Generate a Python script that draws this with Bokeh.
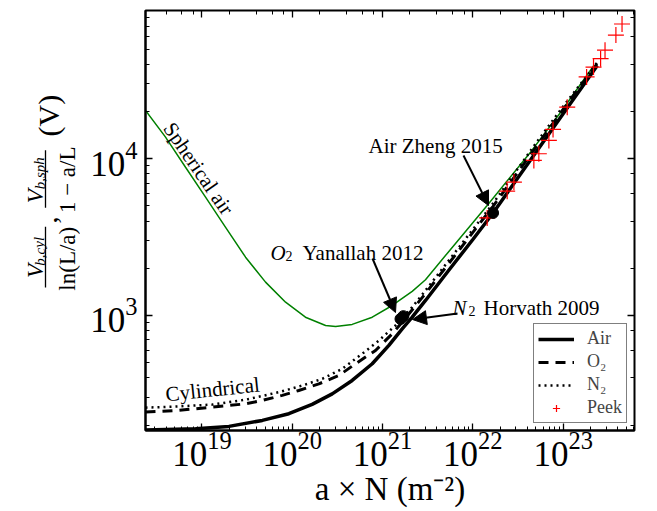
from bokeh.plotting import figure
from bokeh.models import (Range1d, LogAxis, LogTicker, Label, Arrow, NormalHead,
                          Legend, LegendItem, CustomJSTickFormatter)
from bokeh.layouts import row
from bokeh.embed import file_html
from bokeh.resources import INLINE

# ---------------- data ----------------
air_x = [2.37e18, 8.5e18, 1.99e19, 4.66e19, 9.17e19, 1.66e20, 2.77e20, 4.61e20, 7.69e20,
         1.175e21, 1.65e21, 2.13e21, 2.99e21, 5.31e21, 1.0e22, 1.675e22, 5.16e22, 1.0e23,
         2.39e23]
air_y = [186, 189, 196, 214, 236, 271, 316, 385, 492, 644, 822, 975, 1247, 1915, 3055,
         4510, 11300, 19400, 39360]

o2_x = [2.37e18, 5.55e18, 1.3e19, 3.04e19, 4.66e19, 7.75e19, 1.18e20, 1.97e20, 3.28e20,
        5.02e20, 8.36e20, 1.28e21, 1.65e21, 2.99e21, 1.0e22, 1.675e22, 5.16e22, 1.0e23,
        2.39e23]
o2_y = [242, 248, 260, 273, 287, 309, 332, 366, 414, 492, 598, 764, 906, 1381, 3390,
        4970, 12160, 20650, 40550]

n2_x = [2.37e18, 5.55e18, 1.3e19, 3.04e19, 7.11e19, 1.29e20, 2.15e20, 3.58e20, 5.96e20,
        9.1e20, 1.39e21, 2.13e21, 2.99e21, 1.0e22, 1.675e22, 5.16e22, 1.0e23, 2.39e23]
n2_y = [258, 263, 270, 290, 324, 357, 394, 457, 570, 692, 863, 1130, 1443, 3540, 5190,
        12890, 21580, 41200]

sph_x = [2.37e18, 3.95e18, 6.58e18, 1.096e19, 1.82e19, 3.04e19, 5.06e19, 8.43e19, 1.4e20,
         2.34e20, 3.02e20, 4.61e20, 7.69e20, 1.28e21, 2.13e21, 2.99e21, 5.2e21, 1.44e22,
         4.35e22, 9.35e22, 2.19e23]
sph_y = [20320, 13740, 8830, 5690, 3660, 2355, 1632, 1215, 975, 863, 851, 877, 975, 1158,
         1425, 1690, 2489, 5035, 11015, 19720, 39360]

peek_x = [1.44e22, 2.4e22, 2.85e22, 4.74e22, 5.38e22, 6.95e22, 7.73e22, 1.11e23,
          1.82e23, 2.17e23, 2.6e23, 2.91e23, 3.84e23, 4.49e23]
peek_y = [4190, 6210, 7100, 9750, 10760, 13090, 15380, 21330, 33270, 38430, 43490,
          49300, 61500, 72400]

# measured points: O2 Yanallah 2012, N2 Horvath 2009, Air Zheng 2015
pts_x = [1.58e21, 1.7e21, 1.675e22]
pts_y = [950, 990, 4510]

legend_labels = ["Air", "O\u2082", "N\u2082", "Peek"]

FONT = "Liberation Serif"
H = 511          # canvas height
LW = 80          # width of the strip that carries the y-axis title

p = figure(width=650 - LW, height=H, x_axis_type="log", y_axis_type="log",
           x_range=Range1d(2.37e18, 6.17e23), y_range=Range1d(184.5, 88300),
           output_backend="svg", toolbar_location=None,
           min_border_left=145 - LW, min_border_right=16, min_border_top=10,
           min_border_bottom=H - 430)
p.background_fill_color = "white"
p.border_fill_color = "white"
p.outline_line_color = "black"
p.outline_line_width = 2
p.xgrid.visible = False
p.ygrid.visible = False


def style_axis(ax):
    ax.major_tick_in = 7
    ax.major_tick_out = 0
    ax.minor_tick_in = 4
    ax.minor_tick_out = 0
    ax.major_tick_line_color = "black"
    ax.minor_tick_line_color = "black"
    ax.major_tick_line_width = 1.3
    ax.minor_tick_line_width = 1
    ax.axis_line_color = "black"
    ax.axis_line_width = 2


for ax in (p.xaxis[0], p.yaxis[0]):
    style_axis(ax)
    ax.major_label_text_font = FONT
    ax.major_label_text_font_size = "35px"
    ax.major_label_text_color = "black"
p.xaxis[0].major_label_standoff = 1
p.yaxis[0].major_label_standoff = 8
p.xaxis[0].axis_label = "a \u00d7 N (m\u207b\u00b2)"
p.xaxis[0].axis_label_text_font = FONT
p.xaxis[0].axis_label_text_font_size = "33px"
p.xaxis[0].axis_label_text_font_style = "normal"
p.xaxis[0].axis_label_text_color = "black"
p.xaxis[0].axis_label_standoff = 2

for loc in ("above", "right"):
    ax = LogAxis(ticker=LogTicker(), formatter=CustomJSTickFormatter(code="return ''"),
                 major_label_text_font_size="0px", major_label_standoff=0)
    style_axis(ax)
    ax.axis_line_color = None
    p.add_layout(ax, loc)

# ---------------- curves ----------------
sph_r = p.line(sph_x, sph_y, line_color="green", line_width=1.5)
air_r = p.line(air_x, air_y, line_color="black", line_width=3.5)
o2_r = p.line(o2_x, o2_y, line_color="black", line_width=3, line_dash="10 7")
n2_r = p.line(n2_x, n2_y, line_color="black", line_width=2.5, line_dash="2 4")
peek_r = p.scatter(peek_x, peek_y, marker="cross", size=16, line_color="red",
                   line_width=1.2)
p.scatter(pts_x, pts_y, marker="circle", size=11, fill_color="black", line_color="black")

legend = Legend(items=[LegendItem(label=legend_labels[0], renderers=[air_r]),
                       LegendItem(label=legend_labels[1], renderers=[o2_r]),
                       LegendItem(label=legend_labels[2], renderers=[n2_r]),
                       LegendItem(label=legend_labels[3], renderers=[peek_r])],
                location="bottom_right", margin=7, padding=4, spacing=2,
                glyph_width=36, glyph_height=18, label_height=18, label_standoff=13,
                label_text_font=FONT, label_text_font_size="18px",
                border_line_color="black", border_line_width=1.5,
                background_fill_color="white", background_fill_alpha=1)
p.add_layout(legend)


# ---------------- texts inside the plot ----------------
def lab(fig, text, x, y, size, style="normal", angle=0.0, align="left",
        baseline="alphabetic", units="screen"):
    fig.add_layout(Label(x=x, y=y, x_units=units, y_units=units, text=text,
                         angle=angle, text_font=FONT, text_font_size=f"{size}px",
                         text_font_style=style, text_align=align,
                         text_baseline=baseline, text_color="black"))


def arrow(x0, y0, x1, y1):
    p.add_layout(Arrow(x_start=x0, y_start=y0, x_end=x1, y_end=y1,
                       start_units="screen", end_units="screen",
                       line_color="black", line_width=2, start=None,
                       end=NormalHead(size=14, fill_color="black", line_color="black")))


lab(p, "Air Zheng 2015", 223, 285, 21)
arrow(318, 275, 343, 225)

lab(p, "O", 125, 178, 21, style="italic")
lab(p, "2", 140, 175, 14)
lab(p, "Yanallah 2012", 157, 178, 21)
arrow(227, 172, 250, 118)

lab(p, "N", 307, 123, 21, style="italic")
lab(p, "2", 323, 120, 14)
lab(p, "Horvath 2009", 338, 123, 21)
arrow(312, 117, 267, 111)

lab(p, "Spherical air", 53, 262, 21, angle=-0.97, align="center", baseline="middle")
lab(p, "Cylindrical", 67, 41, 21, angle=0.105, align="center", baseline="middle")

# ---------------- y-axis title strip: V_b,cyl/ln(L/a), V_b,sph/(1-a/L) (V) ----------------
yl = figure(width=LW, height=H, x_range=Range1d(0, LW), y_range=Range1d(0, H),
            output_backend="svg", toolbar_location=None,
            x_axis_location=None, y_axis_location=None,
            min_border_left=0, min_border_right=0, min_border_top=0, min_border_bottom=0)
yl.outline_line_color = None
yl.xgrid.visible = False
yl.ygrid.visible = False
yl.background_fill_color = "white"
yl.border_fill_color = "white"

R = 1.5708
# (x = baseline position, y = centre along the text), in this strip's own pixels
lab(yl, "(V)", 48, H - 128, 30, angle=R, align="center", units="data")
lab(yl, "V", 35, H - 226, 23, style="italic", angle=R, align="center", units="data")
lab(yl, "b,sph", 39, H - 198, 15, style="italic", angle=R, align="center", units="data")
lab(yl, "1 \u2212 a/L", 67, H - 206, 23, angle=R, align="center", units="data")
lab(yl, ",", 47, H - 255, 28, angle=R, align="center", units="data")
lab(yl, "V", 35, H - 317, 23, style="italic", angle=R, align="center", units="data")
lab(yl, "b,cyl", 39, H - 293, 15, style="italic", angle=R, align="center", units="data")
lab(yl, "ln(L/a)", 67, H - 302, 23, angle=R, align="center", units="data")
yl.segment(x0=[45, 45], y0=[H - 170, H - 263], x1=[45, 45], y1=[H - 240, H - 337],
           line_color="black", line_width=1.3)

layout = row(yl, p, spacing=0)
open("out.html", "w").write(file_html(layout, INLINE))
